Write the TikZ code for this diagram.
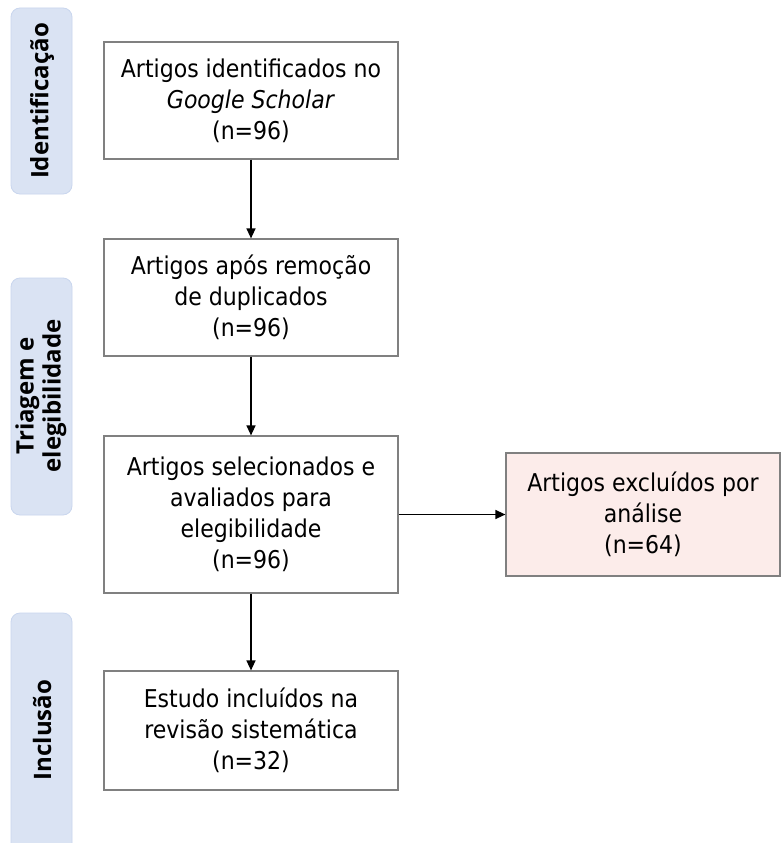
\documentclass[tikz,border=0pt]{standalone}
\usepackage{fontspec}
\setmainfont{DejaVu Sans Condensed}
\newfontfamily\sidefont{Open Sans}
\usetikzlibrary{arrows.meta}
\definecolor{sidefill}{HTML}{DAE3F3}
\definecolor{sideedge}{HTML}{C9D6EE}
\definecolor{pinkfill}{HTML}{FCECEA}
\definecolor{boxedge}{HTML}{808080}
\begin{document}
\begin{tikzpicture}[x=1pt,y=-1pt,
  flowbox/.style={draw=boxedge, line width=1.2pt, fill=white, minimum width=294pt, align=center, font=\fontsize{24.5}{31}\selectfont, inner sep=0pt},
  sidebar/.style={draw=sideedge, line width=0.8pt, fill=sidefill, rounded corners=9pt},
  sidelabel/.style={rotate=90, align=center, font=\sidefont\bfseries\fontsize{24}{27}\selectfont},
  arr/.style={-{Triangle[length=10pt,width=9pt]}, line width=1.3pt, black}]
\useasboundingbox (0,0) rectangle (780,843);
\fill[white] (0,0) rectangle (780,843);
% side bars
\draw[sidebar] (11,8) rectangle (72,194);
\draw[sidebar] (11,278) rectangle (72,515);
\draw[sidebar] (11,613) rectangle (72,880);
\node[sidelabel] (lid) at (42,101) {Identificação};
\node[sidelabel] (ltr) at (41,396) {Triagem e\\elegibilidade};
\node[sidelabel] (lin) at (42,730) {Inclusão};
% boxes
\node[flowbox, minimum height=117pt] (b1) at (251,100.5) {Artigos identificados no\\\textit{Google Scholar}\\(n=96)};
\node[flowbox, minimum height=117pt] (b2) at (251,297.5) {Artigos após remoção\\de duplicados\\(n=96)};
\node[flowbox, minimum height=157pt] (b3) at (251,514.5) {Artigos selecionados e\\avaliados para\\elegibilidade\\(n=96)};
\node[flowbox, minimum height=119pt] (b4) at (251,730.5) {Estudo incluídos na\\revisão sistemática\\(n=32)};
\node[flowbox, fill=pinkfill, minimum width=274pt, minimum height=123pt] (ex) at (643,514.5) {Artigos excluídos por\\análise\\(n=64)};
% arrows
\draw[arr] (b1) -- (b2);
\draw[arr] (b2) -- (b3);
\draw[arr] (b3) -- (b4);
\draw[arr] (b3) -- (ex);
\end{tikzpicture}
\end{document}
